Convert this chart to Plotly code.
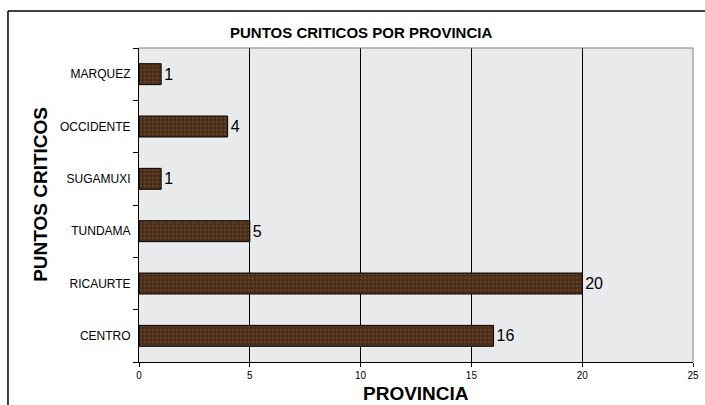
"""Puntos criticos por provincia - barras horizontales."""

import plotly.graph_objects as go

PROVINCIAS = ["MARQUEZ", "OCCIDENTE", "SUGAMUXI", "TUNDAMA", "RICAURTE", "CENTRO"]
PUNTOS = [1, 4, 1, 5, 20, 16]
X_TICKS = [0, 5, 10, 15, 20, 25]

COLOR_BAR = "#4a2d18"
COLOR_BAR_FG = "#7a5638"
COLOR_BG = "#e8eaeb"
FONT = "Liberation Sans, Arial, sans-serif"

fig = go.Figure()
fig.add_trace(
    go.Bar(
        x=PUNTOS,
        y=PROVINCIAS,
        orientation="h",
        width=0.4,
        text=[str(v) for v in PUNTOS],
        textposition="outside",
        textfont={"size": 16, "color": "black", "family": FONT},
        cliponaxis=False,
        marker={
            "color": COLOR_BAR,
            "line": {"color": "black", "width": 1},
            "pattern": {
                "shape": ".",
                "fgcolor": COLOR_BAR_FG,
                "bgcolor": COLOR_BAR,
                "size": 4,
                "solidity": 0.35,
            },
        },
        showlegend=False,
    )
)

fig.update_layout(
    width=705,
    height=405,
    margin={"l": 139, "r": 12, "t": 48, "b": 43},
    paper_bgcolor="white",
    plot_bgcolor=COLOR_BG,
    font={"family": FONT, "color": "black"},
    xaxis={
        "range": [0, 25],
        "tickvals": X_TICKS,
        "automargin": False,
        "showgrid": True,
        "gridcolor": "black",
        "gridwidth": 1,
        "zeroline": False,
        "showline": True,
        "linecolor": "black",
        "linewidth": 1,
        "ticks": "outside",
        "ticklen": 4,
        "tickcolor": "black",
        "tickfont": {"size": 10},
    },
    yaxis={
        "categoryorder": "array",
        "categoryarray": PROVINCIAS[::-1],
        "automargin": False,
        "showgrid": False,
        "showline": True,
        "linecolor": "black",
        "linewidth": 1,
        "ticks": "outside",
        "tickson": "boundaries",
        "ticklen": 5,
        "tickcolor": "black",
        "tickfont": {"size": 12},
        "ticklabelstandoff": 5,
    },
    shapes=[
        # borde superior y derecho del area de trazado
        {"type": "line", "xref": "paper", "yref": "paper", "x0": 0, "x1": 1, "y0": 1, "y1": 1,
         "line": {"color": "#808080", "width": 1}},
        {"type": "line", "xref": "paper", "yref": "paper", "x0": 1, "x1": 1, "y0": 0, "y1": 1,
         "line": {"color": "#808080", "width": 1}},
        # marco exterior del grafico
        {"type": "line", "xref": "paper", "yref": "paper", "x0": -0.2365, "x1": 1.05,
         "y0": 1.118, "y1": 1.118, "line": {"color": "black", "width": 1.5}},
        {"type": "line", "xref": "paper", "yref": "paper", "x0": -0.2365, "x1": -0.2365,
         "y0": -0.2, "y1": 1.118, "line": {"color": "black", "width": 1.5}},
    ],
    annotations=[
        {"text": "<b>PUNTOS CRITICOS POR PROVINCIA</b>", "xref": "paper", "yref": "paper",
         "x": 0.401, "y": 1.048, "showarrow": False, "font": {"size": 15},
         "xanchor": "center", "yanchor": "middle"},
        {"text": "<b>PUNTOS CRITICOS</b>", "xref": "paper", "yref": "paper",
         "x": -0.179, "y": 0.535, "textangle": -90, "showarrow": False,
         "font": {"size": 19}, "xanchor": "center", "yanchor": "middle"},
        {"text": "<b>PROVINCIA</b>", "xref": "paper", "yref": "paper",
         "x": 0.5, "y": -0.099, "showarrow": False, "font": {"size": 19},
         "xanchor": "center", "yanchor": "middle"},
    ],
)

# sin margen del body para que la figura ocupe la ventana exacta
fig.write_html(
    "out.html",
    config={"displayModeBar": False},
    post_script="document.body.style.margin='0';",
)
